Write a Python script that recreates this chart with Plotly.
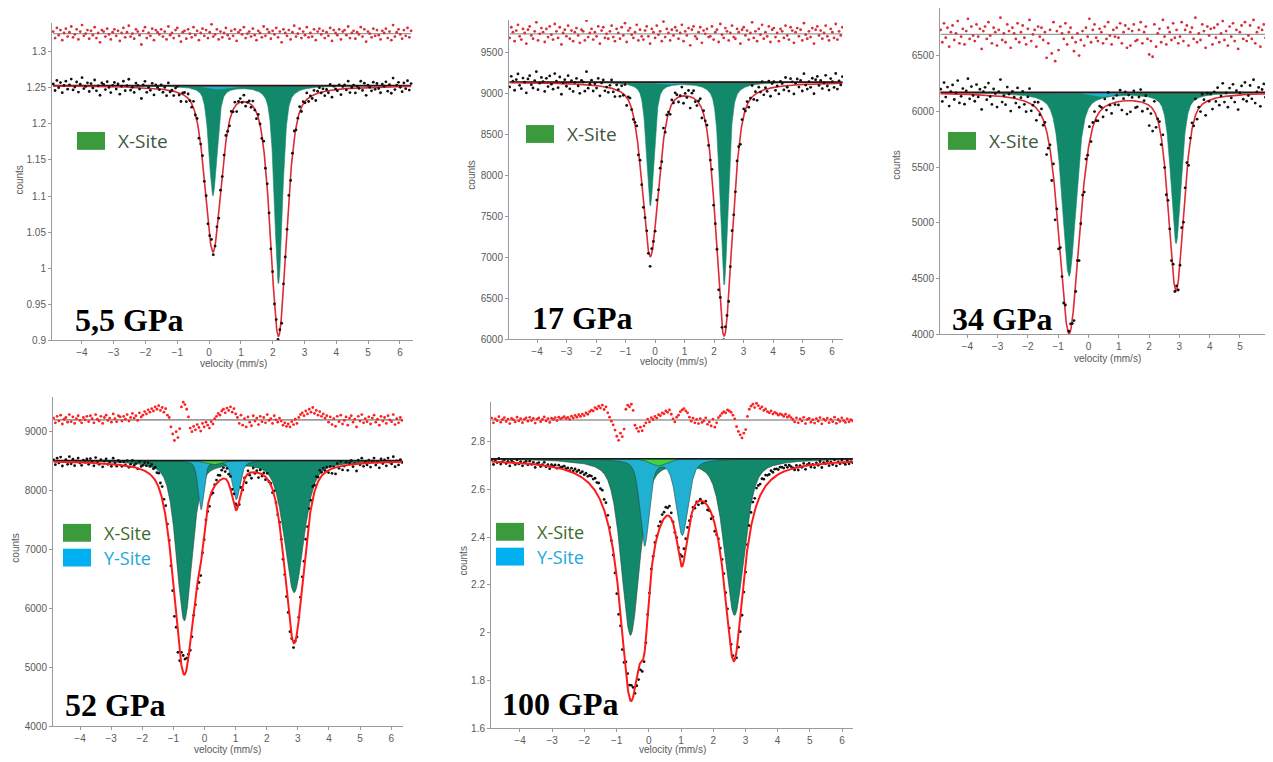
import numpy as np
import plotly.graph_objects as go

W, H = 1273, 762
OFF = 8                      # page body margin of the browser
FW, FH = W - OFF, H - OFF    # figure size so that the page fits the window

# ---------------- data ----------------
panel_names = ["5,5 GPa", "17 GPa", "34 GPa", "52 GPa", "100 GPa"]
x_ticks = [-4, -3, -2, -1, 0, 1, 2, 3, 4, 5, 6]
x_ranges = [[-4.94, 6.41], [-4.95, 6.37], [-4.9, 6.09], [-4.87, 6.38], [-4.9, 6.34]]
y_ranges = [[0.9, 1.34], [6000, 9900], [4000, 6927], [4000, 9590], [1.6, 2.966]]
y_dtick = [0.05, 500, 500, 1000, 0.2]
y_format = ["", "d", "d", "d", ""]

data_span = [(-4.9, 6.35), (-4.93, 6.35), (-4.88, 6.35), (-4.85, 6.35), (-4.88, 6.33)]
baseline = [1.253, 9140, 6170, 8510, 2.728]
resid_offset = [1.325, 9730, 6690, 9200, 2.89]

# total fit: line centres, depths, half widths
fit_center = [[0.12, 2.18], [-0.16, 2.34], [-0.64, 2.89],
              [-0.65, -0.12, 1.02, 2.88, 0.3], [-0.57, -0.13, 1.03, 2.64, 0.3]]
fit_depth = [[0.227, 0.345], [2103, 3082], [2156, 1766],
             [3594, 519, 678, 3075, 70], [0.946, 0.322, 0.337, 0.824, 0.03]]
fit_hw = [[0.3, 0.3], [0.33, 0.33], [0.4, 0.3],
          [0.4, 0.15, 0.17, 0.36, 0.3], [0.42, 0.18, 0.22, 0.37, 0.3]]
fit_eta = [0.5, 0.5, 0.5, 0.5, 1.0]

# X-site (dark green) doublets
x_site_center = [[0.12, 2.18], [-0.16, 2.34], [-0.64, 2.89], [-0.65, 2.88], [-0.57, 2.66]]
x_site_depth = [[0.152, 0.274], [1505, 2474], [1648, 1351], [2710, 2232], [0.735, 0.652]]
x_site_hw = [[0.15, 0.15], [0.15, 0.16], [0.27, 0.2], [0.3, 0.37], [0.34, 0.36]]
# Y-site (blue)
y_site_center = [[0.3], [0.4], [0.45], [-0.11, 1.02], [-0.13, 1.04]]
y_site_depth = [[0.005], [30], [40], [830, 660], [0.361, 0.318]]
y_site_hw = [[0.35], [0.35], [0.4], [0.11, 0.15], [0.17, 0.22]]
# small third component (light green)
z_site_center = [[], [], [], [0.3], [0.3]]
z_site_depth = [[], [], [], [70], [0.03]]
z_site_hw = [[], [], [], [0.3], [0.3]]
comp_eta = 0.5

# residuals (data - fit), per channel
resid_55 = np.array([
    3, -6, 8, -2, 5, -9, 1, 7, -4, 2, 10, -5, -1, 6, -8, 3, 12, -3, 0, 5,
    -7, 4, -2, 9, -6, 1, -12, 5, 3, -4, 7, -1, -8, 2, 6, -3, 4, -10, 1, 8,
    -5, 2, 11, -4, 0, -7, 6, 3, -2, -15, 4, 9, -6, 1, -3, 7, -9, 5, 2, -1,
    6, -4, 3, -8, 10, -2, 1, -6, 5, 8, -3, -11, 2, 4, -7, 6, 0, -5, 9, -2,
    4, -9, 1, 7, -3, 5, -6, 2, 13, -4, -1, 6, -8, 3, -5, 1, 8, -2, -7, 4,
    -3, 6, -10, 2, 5, -1, 9, -6, 0, 3, -4, 7, -2, -9, 4, 1, -5, 10, -3, 6,
    2, -7, 4, -1, 8, -5, 3, -12, 6, 1, -3, 5, -8, 2, 11, -4, 0, 7, -6, 3,
    -2, 9, -5, 1, -4, 6, -9, 3, 7, -1, 4, -6, 2, -3, 8, -10, 5, 1, -2, 6,
    -8, 3, 5, -2, 10, -6, 1, 4, -7, 2, -1, 9, -4, 6, -11, 3, 0, -5, 7, -3,
    5, -2, -8, 4, 1, 7, -6, 3, -9, 12, -4, 2, 6, -1, -7, 5, -3, 8, -5, 4]) * 1e-3
resid_17 = np.array([
    -5, 8, 2, -9, 4, 11, -3, -7, 6, 1, -12, 5, 9, -2, -6, 3, 14, -8, 0, 7,
    2, -10, 6, -4, 9, -1, -7, 12, 3, -5, 8, -13, 1, 5, -3, 10, -6, 4, -9, 2,
    7, -2, -11, 5, 3, -8, 16, -4, 1, 6, -7, 2, -3, 9, -12, 4, 8, -5, 0, -6,
    3, 10, -4, -9, 6, 1, -6, 8, -2, 13, -10, 4, 7, -1, -5, 2, 11, -8, 5, -3,
    -7, 4, 9, -3, -12, 6, 2, -5, 10, -1, 3, -9, 15, -4, 6, 1, -8, 5, -2, 8,
    4, -6, 1, 11, -9, 3, -2, 7, -14, 5, 9, -3, -6, 2, 8, -11, 4, 0, 6, -4,
    -3, 9, -7, 2, 5, -10, 12, -1, -5, 7, 3, -8, 1, 10, -4, -6, 6, 2, -12, 5,
    8, -2, 4, -7, 1, 14, -5, 3, -9, 6, -1, 11, -6, 2, -3, 9, -10, 5, 7, -4,
    1, -9, 6, 3, -5, 10, -2, -7, 8, 4, -11, 2, 7, -3, 5, -8, 13, -1, -6, 3,
    -4, 7, -12, 5, 9, -2, 4, -6, 1, 10, -3, -8, 6, 2, -5, 12, -7, 3, -2, 8]) * 10
resid_34 = np.array([
    4, -7, 10, -3, 6, -11, 2, 8, -5, 1, 12, -8, -2, 5, -9, 3, 14, -4, 7, -1,
    -6, 9, -2, 5, -13, 3, 7, -4, 11, -1, -8, 6, 2, -10, 4, 15, -5, 1, -7, 9,
    3, -12, 6, 1, -4, 10, -7, 2, 8, -3, -9, 5, 13, -6, 0, 4, -11, 7, -2, 6,
    -5, 2, -21, -8, 4, -17, 11, -24, 3, -14, 7, 1, -4, 10, -9, 2, 6, -3, -15, -7,
    1, -19, -5, 3, -10, 6, -2, 14, -7, 4, 9, -3, -6, 5, 2, -8, 7, -4, 11, -1,
    -9, 4, -2, 6, -3, 10, -8, 2, 8, -12, 5, -10, 3, 9, -6, -5, 4, 11, -8, 2,
    7, -4, -18, -6, -20, 9, -11, 1, 5, -7, 13, -2, -9, 6, 2, -5, 10, -3, 4, -8,
    -2, 11, -6, 4, 8, -10, 2, 6, -4, 15, -7, 1, -5, 9, 3, -12, 7, -1, 5, -9,
    6, -3, 9, -7, 1, 12, -5, 3, -10, 7, -2, 10, -6, 4, -13, 2, 8, -4, 11, -6,
    -1, 8, -4, 13, -8, 2, 6, -11, 4, 9, -3, 7, -9, 1, 12, -5, 3, -7, 10, -2]) * 10
resid_52 = np.array([
    3, -5, 6, -2, 8, -7, 1, 4, -4, 9, -3, 5, -6, 2, 7, -1, -5, 4, 0, 6,
    -3, 7, 2, -5, 9, 1, -2, 6, -6, 4, 8, -1, 3, -4, 10, 2, -3, 7, 5, -2,
    6, 1, 9, -2, 4, 11, 3, 7, -1, 12, 5, 8, 14, 10, 17, 13, 19, 15, 22, 18,
    24, 16, 21, 13, 19, 8, 4, -12, -24, -35, -20, -30, -15, 22, 30, 26, 18, 5, -14, -20,
    -11, -17, -8, -13, -19, -6, -12, -4, -9, -14, -3, -7, 2, 6, 11, 8, 15, 18, 12, 20,
    16, 22, 13, 19, 10, 4, -6, 8, -9, 2, -12, 5, -4, -10, 7, -2, 3, -8, 6, -3,
    4, -5, 9, -1, 2, -6, 7, 0, -4, 3, -2, -9, -5, -11, -7, -12, -3, -8, 1, -6,
    4, 9, 12, 7, 15, 10, 18, 13, 21, 11, 16, 8, 14, 6, 10, 3, 7, -4, 5, -8,
    2, -11, 6, -3, 8, -7, -1, 5, -9, 3, 7, -4, 1, -12, 6, -2, 9, -5, 2, -3,
    5, -7, 3, 8, -4, 1, -9, 6, -2, 4, -6, 7, 0, -3, 9, -8, 2, -5, 4, -1]) * 10
resid_100 = np.array([
    8, -12, 5, -3, 14, -9, 2, 10, -6, 4, -15, 7, 1, -8, 12, -4, 6, -11, 3, 9,
    -5, 11, -2, 7, -13, 4, 9, -7, 2, 13, -4, 6, -10, 8, 3, 10, -2, 12, 5, 9,
    14, 6, 11, 3, 16, 8, 19, 12, 22, 15, 25, 18, 30, 24, 35, 41, 38, 52, 46, 58,
    50, 62, 44, 55, 30, 12, -5, -20, -42, -68, -85, -55, -70, -38, 45, 62, 55, 66, 40, -22,
    -35, -48, -30, -45, -25, -12, 4, -8, 10, 2, 15, 8, 22, 18, 30, 26, 38, 32, 42, 24,
    5, -8, 12, 20, 35, 42, 48, 38, 30, 12, -5, 8, -12, 3, -15, 6, -10, -3, 9, -18,
    -8, -25, 4, -30, -12, 10, 18, 28, 35, 30, 42, 38, 32, 20, 5, -28, -48, -62, -75, -55,
    -40, 15, 45, 58, 66, 52, 70, 60, 48, 55, 40, 46, 35, 30, 38, 25, 32, 28, 20, 26,
    22, 15, 24, 12, 18, 10, 2, -8, 9, -12, 5, -4, 11, -15, 3, 7, -9, 1, -13, 6,
    -5, 10, -16, 4, -2, 8, -11, 3, -7, 12, -14, 2, -6, 9, -3, -10, 5, -8, 1, -4]) * 1e-3
residuals = [resid_55, resid_17, resid_34, resid_52, resid_100]

legend_sites = [["X-Site"], ["X-Site"], ["X-Site"], ["X-Site", "Y-Site"], ["X-Site", "Y-Site"]]

# ---------------- layout (window pixels) ----------------
plot_px = [(52, 413, 23, 343), (509, 843, 20, 342), (940, 1273, 8, 337),
           (53, 403, 400, 732), (491, 853, 405, 734)]
label_px = [(73, 322), (530, 320), (950, 321), (63, 711), (500, 710)]
legend_px = [(77, 142), (526, 135), (948, 142), (63, 537), (496, 536)]
counts_px = [(20, 182), (472, 177), (897, 167), (16, 553), (464, 565)]
vel_px = [(233, 366), (673, 364), (1107, 361), (227, 755), (672, 755)]

C_DG = "#12896a"
C_BL = "#1fb0d2"
C_LG = "#3fd43f"


def px2paper(px, py):
    return (px - OFF) / FW, 1 - (py - OFF) / FH


def pv(x, c, h, eta):
    u = (x - c) / h
    return eta / (1 + u ** 2) + (1 - eta) * np.exp(-np.log(2) * u ** 2)


def curve(x, base, centers, depths, hws, eta):
    y = np.full_like(x, base, dtype=float)
    for c, d, h in zip(centers, depths, hws):
        y = y - d * pv(x, c, h, eta)
    return y


fig = go.Figure()
layout = {}
annotations = []
shapes = []

for i in range(5):
    sfx = "" if i == 0 else str(i + 1)
    xa, ya = "x" + sfx, "y" + sfx
    x0, x1, y0, y1 = plot_px[i]
    dx0, dy1 = px2paper(x0, y1)
    dx1, dy0 = px2paper(x1, y0)
    layout["xaxis" + sfx] = dict(
        domain=[max(dx0, 0), min(dx1, 1)], range=x_ranges[i], anchor=ya,
        tickvals=x_ticks, showline=True, linecolor="#9a9a9a", linewidth=1,
        ticks="outside", ticklen=3, tickcolor="#9a9a9a", showgrid=False, zeroline=False,
        ticklabeloverflow="allow",
        tickfont=dict(size=10, color="#5a5a5a", family="Liberation Sans"))
    layout["yaxis" + sfx] = dict(
        domain=[max(dy1, 0), min(dy0, 1)], range=y_ranges[i], anchor=xa,
        dtick=y_dtick[i], tick0=y_ranges[i][0], tickformat=y_format[i],
        showline=True, linecolor="#9a9a9a",
        linewidth=1, ticks="outside", ticklen=3, tickcolor="#9a9a9a",
        showgrid=False, zeroline=False,
        tickfont=dict(size=10, color="#5a5a5a", family="Liberation Sans"))

    hi = i >= 3
    base = baseline[i]
    xs0, xs1 = data_span[i]
    xf = np.linspace(xs0, xs1, 1500)
    res = residuals[i]
    xc = np.linspace(xs0, xs1, len(res))

    fit_f = curve(xf, base, fit_center[i], fit_depth[i], fit_hw[i], fit_eta[i])
    fit_c = curve(xc, base, fit_center[i], fit_depth[i], fit_hw[i], fit_eta[i])
    ydata = fit_c + res

    # residual
    fig.add_trace(go.Scatter(x=[xs0, xs1], y=[resid_offset[i]] * 2, mode="lines",
                             line=dict(color="#9a9a9a", width=1.6 if hi else 1.2),
                             xaxis=xa, yaxis=ya, hoverinfo="skip"))
    fig.add_trace(go.Scatter(x=xc, y=resid_offset[i] + res, mode="markers",
                             marker=dict(color="#ff1f1f" if hi else "#d8303a", size=2.8),
                             xaxis=xa, yaxis=ya, hoverinfo="skip"))

    # components
    for cen, dep, hw, col in [(x_site_center[i], x_site_depth[i], x_site_hw[i], C_DG),
                              (y_site_center[i], y_site_depth[i], y_site_hw[i], C_BL),
                              (z_site_center[i], z_site_depth[i], z_site_hw[i], C_LG)]:
        if not cen:
            continue
        yc = curve(xf, base, cen, dep, hw, comp_eta)
        fig.add_trace(go.Scatter(
            x=np.concatenate([xf, xf[::-1]]),
            y=np.concatenate([yc, np.full_like(xf, base)]),
            mode="lines", fill="toself", fillcolor=col,
            line=dict(color="#2a4a40" if hi else col, width=0.6),
            xaxis=xa, yaxis=ya, hoverinfo="skip"))

    fig.add_trace(go.Scatter(x=[xs0, xs1], y=[base, base], mode="lines",
                             line=dict(color="#1a1a1a" if hi else "#3a1010", width=1.6),
                             xaxis=xa, yaxis=ya, hoverinfo="skip"))

    dots = go.Scatter(x=xc, y=ydata, mode="markers",
                      marker=dict(color="#111111", size=2.8),
                      xaxis=xa, yaxis=ya, hoverinfo="skip")
    fitl = go.Scatter(x=xf, y=fit_f, mode="lines",
                      line=dict(color="#ff1a1a" if hi else "#dd2a35", width=2 if hi else 1.6),
                      xaxis=xa, yaxis=ya, hoverinfo="skip")
    if hi:
        fig.add_trace(dots)
        fig.add_trace(fitl)
    else:
        fig.add_trace(fitl)
        fig.add_trace(dots)

    # pressure label
    lx, ly = px2paper(*label_px[i])
    annotations.append(dict(x=lx, y=ly, xref="paper", yref="paper",
                            text="<b>" + panel_names[i] + "</b>",
                            showarrow=False, xanchor="left", yanchor="middle",
                            font=dict(family="Liberation Serif", size=32, color="black")))
    # legend
    gx, gy = legend_px[i]
    for k, site in enumerate(legend_sites[i]):
        cy = gy + k * 25
        bx0, by0 = px2paper(gx, cy - 9)
        bx1, by1 = px2paper(gx + 28, cy + 9)
        shapes.append(dict(type="rect", xref="paper", yref="paper", x0=bx0, x1=bx1,
                           y0=by1, y1=by0, line=dict(width=0),
                           fillcolor="#3a9a3c" if site == "X-Site" else "#00b0f0"))
        tx, ty = px2paper(gx + 39, cy)
        if site == "X-Site":
            tcol = "#3d6b27" if hi else "#3f563f"
        else:
            tcol = "#1ea8e0"
        annotations.append(dict(x=tx, y=ty, xref="paper", yref="paper", text=site,
                                showarrow=False, xanchor="left", yanchor="middle",
                                font=dict(family="Open Sans", size=18 if hi else 19,
                                          color=tcol)))
    # axis titles
    cx, cy = px2paper(*counts_px[i])
    annotations.append(dict(x=cx, y=cy, xref="paper", yref="paper", text="counts",
                            showarrow=False, textangle=-90, xanchor="center", yanchor="middle",
                            font=dict(family="Liberation Sans", size=10, color="#5a5a5a")))
    vx, vy = px2paper(*vel_px[i])
    annotations.append(dict(x=vx, y=vy, xref="paper", yref="paper", text="velocity (mm/s)",
                            showarrow=False, xanchor="center", yanchor="middle",
                            font=dict(family="Liberation Sans", size=10, color="#5a5a5a")))

fig.update_layout(width=FW, height=FH, margin=dict(l=0, r=0, t=0, b=0),
                  paper_bgcolor="white", plot_bgcolor="white", showlegend=False,
                  annotations=annotations, shapes=shapes, **layout)
fig.write_html("out.html")
